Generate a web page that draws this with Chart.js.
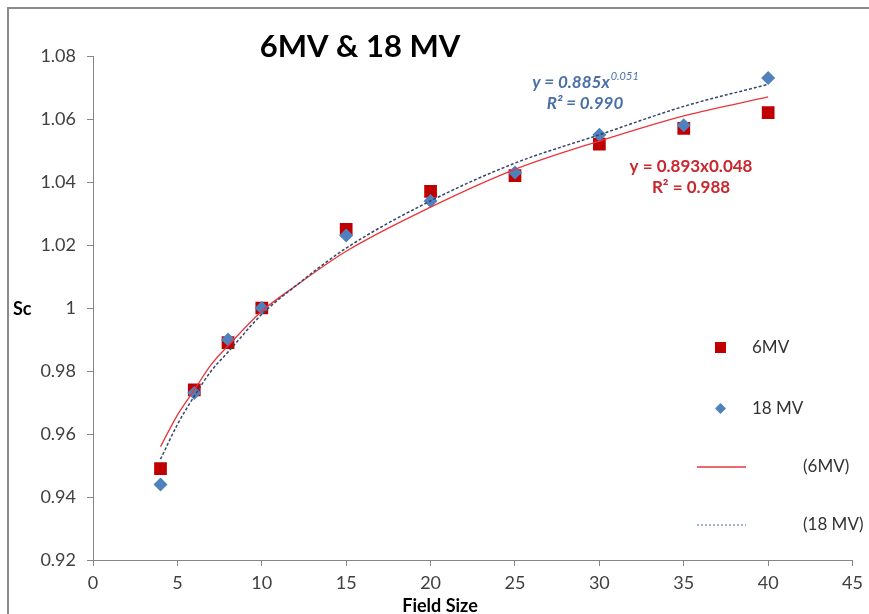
<!DOCTYPE html>
<html lang="en">
  <head>
    <meta charset="UTF-8" />
    <meta name="viewport" content="width=device-width, initial-scale=1.0" />
    <script src="https://cdn.jsdelivr.net/npm/chart.js@4.4.1/dist/chart.umd.min.js"></script>
    <style>
      html, body { margin: 0; padding: 0; background: #fff; }
      #wrap { width: 869px; height: 614px; }
    </style>
  </head>
  <body>
    <div id="wrap">
      <canvas id="myChart" width="869" height="614"></canvas>
    </div>

    <script>
      // measured points (field size vs Sc)
      const fieldSize = [4, 6, 8, 10, 15, 20, 25, 30, 35, 40];
      const sc6MV = [0.949, 0.974, 0.989, 1.0, 1.025, 1.037, 1.042, 1.052, 1.057, 1.062];
      const sc18MV = [0.944, 0.973, 0.99, 1.0, 1.023, 1.034, 1.043, 1.055, 1.058, 1.073];

      // power trendlines
      const trendX = [4, 5, 6, 7, 8, 10, 12, 15, 20, 25, 30, 35, 40];
      const trend6MV = [0.956, 0.966, 0.974, 0.982, 0.988, 0.999, 1.007, 1.018, 1.032, 1.044, 1.053, 1.061, 1.067];
      const trend18MV = [0.952, 0.963, 0.972, 0.98, 0.986, 0.998, 1.007, 1.019, 1.034, 1.046, 1.055, 1.064, 1.071];

      // axis ticks
      const xTicks = [0, 5, 10, 15, 20, 25, 30, 35, 40, 45];
      const yTicks = [0.92, 0.94, 0.96, 0.98, 1.0, 1.02, 1.04, 1.06, 1.08];

      const toPoints = (xs, ys) => xs.map((x, i) => ({ x: x, y: ys[i] }));

      const FONT = "Lato, 'Open Sans', sans-serif";
      const RED = "#c00000";
      const BLUE = "#4f81bd";

      // frame, title, axis names, equations and legend (Excel style)
      const decorations = {
        id: "decorations",
        beforeDraw(chart) {
          const c = chart.ctx;
          c.save();
          c.fillStyle = "#fff";
          c.fillRect(0, 0, chart.width, chart.height);
          c.strokeStyle = "#8a8a8a";
          c.lineWidth = 2;
          c.beginPath();
          c.moveTo(8, chart.height + 5);
          c.lineTo(8, 8);
          c.lineTo(chart.width + 5, 8);
          c.stroke();
          c.restore();
        },
        afterDraw(chart) {
          const c = chart.ctx;
          c.save();
          c.textBaseline = "alphabetic";

          // title
          c.fillStyle = "#000";
          c.font = "bold 31px " + FONT;
          c.textAlign = "center";
          c.fillText("6MV & 18 MV", 360, 57);

          // axis names
          c.font = "bold 18px " + FONT;
          c.textAlign = "left";
          c.fillText("Sc", 13, 315);
          c.textAlign = "center";
          c.fillText("Field Size", 440, 612);

          // 18 MV equation
          c.fillStyle = "#4a6fa8";
          c.font = "italic bold 17px " + FONT;
          c.textAlign = "left";
          const main = "y = 0.885x";
          const wMain = c.measureText(main).width;
          c.font = "italic 11px " + FONT;
          const wSup = c.measureText("0.051").width;
          let x0 = 585 - (wMain + wSup) / 2;
          c.font = "italic bold 17px " + FONT;
          c.fillText(main, x0, 88);
          c.font = "italic 11px " + FONT;
          c.fillText("0.051", x0 + wMain + 1, 80);
          c.font = "italic bold 17px " + FONT;
          c.textAlign = "center";
          c.fillText("R\u00b2 = 0.990", 585, 109);

          // 6MV equation
          c.fillStyle = "#c8282e";
          c.font = "bold 17px " + FONT;
          c.fillText("y = 0.893x0.048", 691, 172);
          c.fillText("R\u00b2 = 0.988", 691, 193);

          // legend
          c.font = "17px " + FONT;
          c.textAlign = "left";
          c.textBaseline = "middle";

          c.fillStyle = RED;
          c.fillRect(715, 342, 11, 11);
          c.fillStyle = "#333";
          c.fillText("6MV", 752, 348);

          c.fillStyle = BLUE;
          c.beginPath();
          c.moveTo(720.5, 403);
          c.lineTo(726, 408.5);
          c.lineTo(720.5, 414);
          c.lineTo(715, 408.5);
          c.closePath();
          c.fill();
          c.fillStyle = "#333";
          c.fillText("18 MV", 752, 409);

          c.strokeStyle = "#e8363c";
          c.lineWidth = 1.5;
          c.beginPath();
          c.moveTo(697, 467);
          c.lineTo(746, 467);
          c.stroke();
          c.fillText("(6MV)", 803, 467);

          c.strokeStyle = "#7f9cc8";
          c.setLineDash([2, 2]);
          c.beginPath();
          c.moveTo(697, 525);
          c.lineTo(746, 525);
          c.stroke();
          c.setLineDash([]);
          c.fillText("(18 MV)", 803, 525);

          c.restore();
        },
      };

      const ctx = document.getElementById("myChart").getContext("2d");
      const myChart = new Chart(ctx, {
        type: "scatter",
        data: {
          datasets: [
            {
              label: "(18 MV)",
              data: toPoints(trendX, trend18MV),
              showLine: true,
              borderColor: "#34466a",
              borderWidth: 1.5,
              borderDash: [3, 2],
              pointRadius: 0,
              cubicInterpolationMode: "monotone",
            },
            {
              label: "(6MV)",
              data: toPoints(trendX, trend6MV),
              showLine: true,
              borderColor: "#e8363c",
              borderWidth: 1.3,
              pointRadius: 0,
              cubicInterpolationMode: "monotone",
            },
            {
              label: "18 MV",
              data: toPoints(fieldSize, sc18MV),
              pointStyle: "rectRot",
              pointRadius: 7,
              backgroundColor: BLUE,
              borderColor: BLUE,
              borderWidth: 0,
            },
            {
              label: "6MV",
              data: toPoints(fieldSize, sc6MV),
              pointStyle: "rect",
              pointRadius: 9,
              backgroundColor: RED,
              borderColor: RED,
              borderWidth: 0,
            },
          ],
        },
        options: {
          responsive: false,
          animation: false,
          devicePixelRatio: 1,
          layout: {
            padding: { top: 56, right: 16, left: 0, bottom: 0 },
          },
          plugins: {
            legend: { display: false },
            tooltip: { enabled: false },
            title: { display: false },
          },
          scales: {
            x: {
              type: "linear",
              min: 0,
              max: 45,
              afterBuildTicks: (scale) => {
                scale.ticks = xTicks.map((v) => ({ value: v }));
              },
              afterFit: (scale) => {
                scale.height = 54;
              },
              grid: {
                drawOnChartArea: false,
                color: "#868686",
                tickLength: 6,
              },
              border: { color: "#868686", width: 1 },
              ticks: {
                color: "#404040",
                font: { family: FONT, size: 18 },
                padding: 6,
                maxRotation: 0,
              },
            },
            y: {
              type: "linear",
              min: 0.92,
              max: 1.08,
              afterBuildTicks: (scale) => {
                scale.ticks = yTicks.map((v) => ({ value: v }));
              },
              afterFit: (scale) => {
                scale.width = 93;
              },
              grid: {
                drawOnChartArea: false,
                color: "#868686",
                tickLength: 6,
              },
              border: { color: "#868686", width: 1 },
              ticks: {
                color: "#404040",
                font: { family: FONT, size: 18 },
                padding: 11,
                callback: function (value) {
                  return String(Number(value.toFixed(2)));
                },
              },
            },
          },
        },
        plugins: [decorations],
      });
    </script>
  </body>
</html>
